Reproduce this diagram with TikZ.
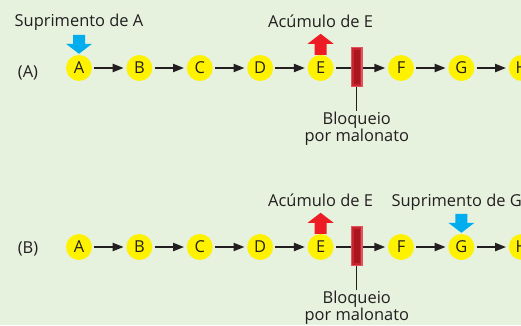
\documentclass[tikz,border=0pt]{standalone}
\usepackage{fontspec}
\setmainfont{Open Sans}
\usepackage{xcolor}
\definecolor{bg}{HTML}{E6F1DE}
\definecolor{metab}{HTML}{FFF200}
\definecolor{ink}{HTML}{231F20}
\definecolor{supplyblue}{HTML}{00AEEF}
\definecolor{accumred}{HTML}{ED1C24}
\definecolor{block}{HTML}{C8242E}
\definecolor{blockdark}{HTML}{A8161F}
\definecolor{blocklight}{HTML}{E2545D}
\usepackage{tikz}
\usetikzlibrary{arrows.meta,positioning,calc}

\begin{document}
\begin{tikzpicture}[
  x=1bp, y=1bp,
  font=\fontsize{16.5}{16.5}\selectfont,
  >={Triangle[length=11bp, width=8bp]},
  node distance=34bp,
  met/.style={circle, fill=metab, minimum size=26bp, inner sep=0pt, text=ink},
  reac/.style={->, draw=ink, line width=2bp, shorten <=2bp, shorten >=2.5bp},
  tag/.style={text=ink, inner sep=0pt, anchor=base},
  note/.style={align=center, text=ink, inner sep=1bp},
  blocker/.style={rectangle, fill=blocklight, minimum width=12bp, minimum height=40bp, inner sep=0pt},
  supply/.style={fill=supplyblue},
  accum/.style={fill=accumred},
]
\useasboundingbox (0,0) rectangle (521,325);
\fill[bg] (0,0) rectangle (521,325);
\clip (0,0) rectangle (521,325);

% Row (A): supply of A, block by malonate
\node[met] (A1) at (79,257) {A};
\node[met, right=of A1] (B1) {B};
\node[met, right=of B1] (C1) {C};
\node[met, right=of C1] (D1) {D};
\node[met, right=of D1] (E1) {E};
\node[met, right=54bp of E1] (F1) {F};
\node[met, right=of F1] (G1) {G};
\node[met, right=of G1] (H1) {H};
\node[tag] (rowA) at (28,248) {(A)};

\draw[reac] (A1) -- (B1);
\draw[reac] (B1) -- (C1);
\draw[reac] (C1) -- (D1);
\draw[reac] (D1) -- (E1);
\draw[reac] (E1) -- (F1);
\draw[reac] (F1) -- (G1);
\draw[reac] (G1) -- (H1);

\node[blocker] (blk1) at ($(E1)!0.45!(F1)+(0,1)$) {};
\fill[block] ([shift={(1.5,1.5)}]blk1.south west) rectangle ([shift={(-1.5,-1.5)}]blk1.north east);
\fill[blockdark] ([shift={(3,3)}]blk1.south west) rectangle ([shift={(-3,-3)}]blk1.north east);
\node[note, below=24bp of blk1] (why1) {Bloqueio\\por malonato};
\draw[ink, line width=1bp] (blk1.south) -- (why1.north);

\fill[supply] ([yshift=1bp]A1.north) -- ++(13,10) -- ++(-7,0) -- ++(0,9) -- ++(-12,0) -- ++(0,-9) -- ++(-7,0) -- cycle;
\fill[accum] ([xshift=-6bp]E1.north) -- ++(0,11) -- ++(-7,0) -- ++(13,10) -- ++(13,-10) -- ++(-7,0) -- ++(0,-11) -- cycle;
\node[tag] (supA) at ([yshift=41bp]A1.center) {Suprimento de A};
\node[tag] (accA) at ([yshift=40.5bp]E1.center) {Acúmulo de E};

% Row (B): supply of G, block by malonate
\node[met] (A2) at (79,78) {A};
\node[met, right=of A2] (B2) {B};
\node[met, right=of B2] (C2) {C};
\node[met, right=of C2] (D2) {D};
\node[met, right=of D2] (E2) {E};
\node[met, right=54bp of E2] (F2) {F};
\node[met, right=of F2] (G2) {G};
\node[met, right=of G2] (H2) {H};
\node[tag] (rowB) at (28,72) {(B)};

\draw[reac] (A2) -- (B2);
\draw[reac] (B2) -- (C2);
\draw[reac] (C2) -- (D2);
\draw[reac] (D2) -- (E2);
\draw[reac] (E2) -- (F2);
\draw[reac] (F2) -- (G2);
\draw[reac] (G2) -- (H2);

\node[blocker] (blk2) at ($(E2)!0.45!(F2)+(0,1)$) {};
\fill[block] ([shift={(1.5,1.5)}]blk2.south west) rectangle ([shift={(-1.5,-1.5)}]blk2.north east);
\fill[blockdark] ([shift={(3,3)}]blk2.south west) rectangle ([shift={(-3,-3)}]blk2.north east);
\node[note, below=24bp of blk2] (why2) {Bloqueio\\por malonato};
\draw[ink, line width=1bp] (blk2.south) -- (why2.north);

\fill[accum] ([xshift=-6bp]E2.north) -- ++(0,11) -- ++(-7,0) -- ++(13,10) -- ++(13,-10) -- ++(-7,0) -- ++(0,-11) -- cycle;
\fill[supply] ([yshift=1bp]G2.north) -- ++(13,10) -- ++(-7,0) -- ++(0,9) -- ++(-12,0) -- ++(0,-9) -- ++(-7,0) -- cycle;
\node[tag] (accB) at ([yshift=41bp]E2.center) {Acúmulo de E};
\node[tag, anchor=base west] (supB) at ([xshift=-70bp, yshift=41bp]G2.center) {Suprimento de G};
\end{tikzpicture}
\end{document}
